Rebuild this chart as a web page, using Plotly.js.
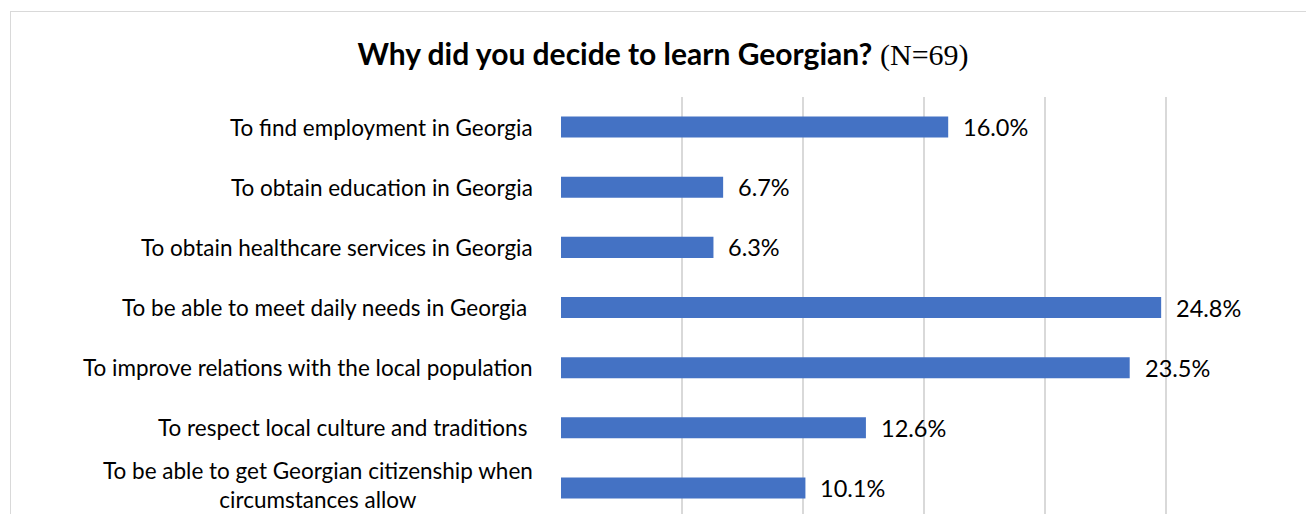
<!DOCTYPE html>
<html>
<head>
<meta charset="utf-8">
<script src="https://cdn.plot.ly/plotly-3.0.1.min.js"></script>
<style>
html,body{margin:0;padding:0;background:#fff;overflow:hidden;width:1306px;height:514px;}
#frame{position:absolute;left:10px;top:11px;width:1500px;height:700px;border:1px solid #d9d9d9;box-sizing:border-box;}
#chart{position:absolute;left:0;top:0;width:1306px;height:560px;}
</style>
</head>
<body>
<div id="frame"></div>
<div id="chart"></div>
<script>
const categories = [
  "To find employment in Georgia",
  "To obtain education in Georgia",
  "To obtain healthcare services in Georgia",
  "To be able to meet daily needs in Georgia ",
  "To improve relations with the local population",
  "To respect local culture and traditions ",
  "To be able to get Georgian citizenship when<br>circumstances allow"
];
const values = [16.0, 6.7, 6.3, 24.8, 23.5, 12.6, 10.1];
const valueLabels = ["16.0%", "6.7%", "6.3%", "24.8%", "23.5%", "12.6%", "10.1%"];
const xTicks = [0, 5, 10, 15, 20, 25, 30];

const FONT = "Lato, 'Open Sans', sans-serif";

const trace = {
  type: "bar",
  orientation: "h",
  x: values,
  y: categories,
  marker: {color: "#4472C4"},
  hoverinfo: "skip"
};

const annotations = [];
categories.forEach((c, i) => {
  const multi = c.indexOf("<br>") >= 0;
  annotations.push({
    xref: "paper", yref: "y", x: 0, y: c,
    xanchor: "right", yanchor: "middle", xshift: -26, yshift: multi ? 3 : 0,
    text: c, showarrow: false, align: "center",
    font: {family: FONT, size: 22.5, color: "#000"}
  });
  annotations.push({
    xref: "x", yref: "y", x: values[i], y: c,
    xanchor: "left", yanchor: "middle", xshift: 13,
    text: valueLabels[i], showarrow: false,
    font: {family: FONT, size: 23.5, color: "#000"}
  });
});

const layout = {
  width: 1306, height: 560,
  margin: {l: 561, r: 19, t: 97, b: 39, pad: 0},
  paper_bgcolor: "rgba(0,0,0,0)",
  plot_bgcolor: "rgba(0,0,0,0)",
  showlegend: false,
  bargap: 0.65,
  title: {
    text: "<b>Why did you decide to learn Georgian?</b> <span style=\"font-family:'Liberation Serif', serif;\">(N=69)</span>",
    font: {family: FONT, size: 30, color: "#000"},
    xref: "container", yref: "container",
    x: 663 / 1306, xanchor: "center",
    y: 1 - 54 / 560, yanchor: "middle"
  },
  xaxis: {
    range: [0, 30],
    tickvals: xTicks,
    showticklabels: false,
    showgrid: true, gridcolor: "#d9d9d9", gridwidth: 1.5,
    zeroline: false, showline: false, ticks: ""
  },
  yaxis: {
    type: "category",
    autorange: "reversed",
    showticklabels: false,
    showgrid: false, zeroline: false, showline: false, ticks: ""
  },
  annotations: annotations
};

Plotly.newPlot("chart", [trace], layout, {displayModeBar: false, staticPlot: true});
</script>
</body>
</html>
